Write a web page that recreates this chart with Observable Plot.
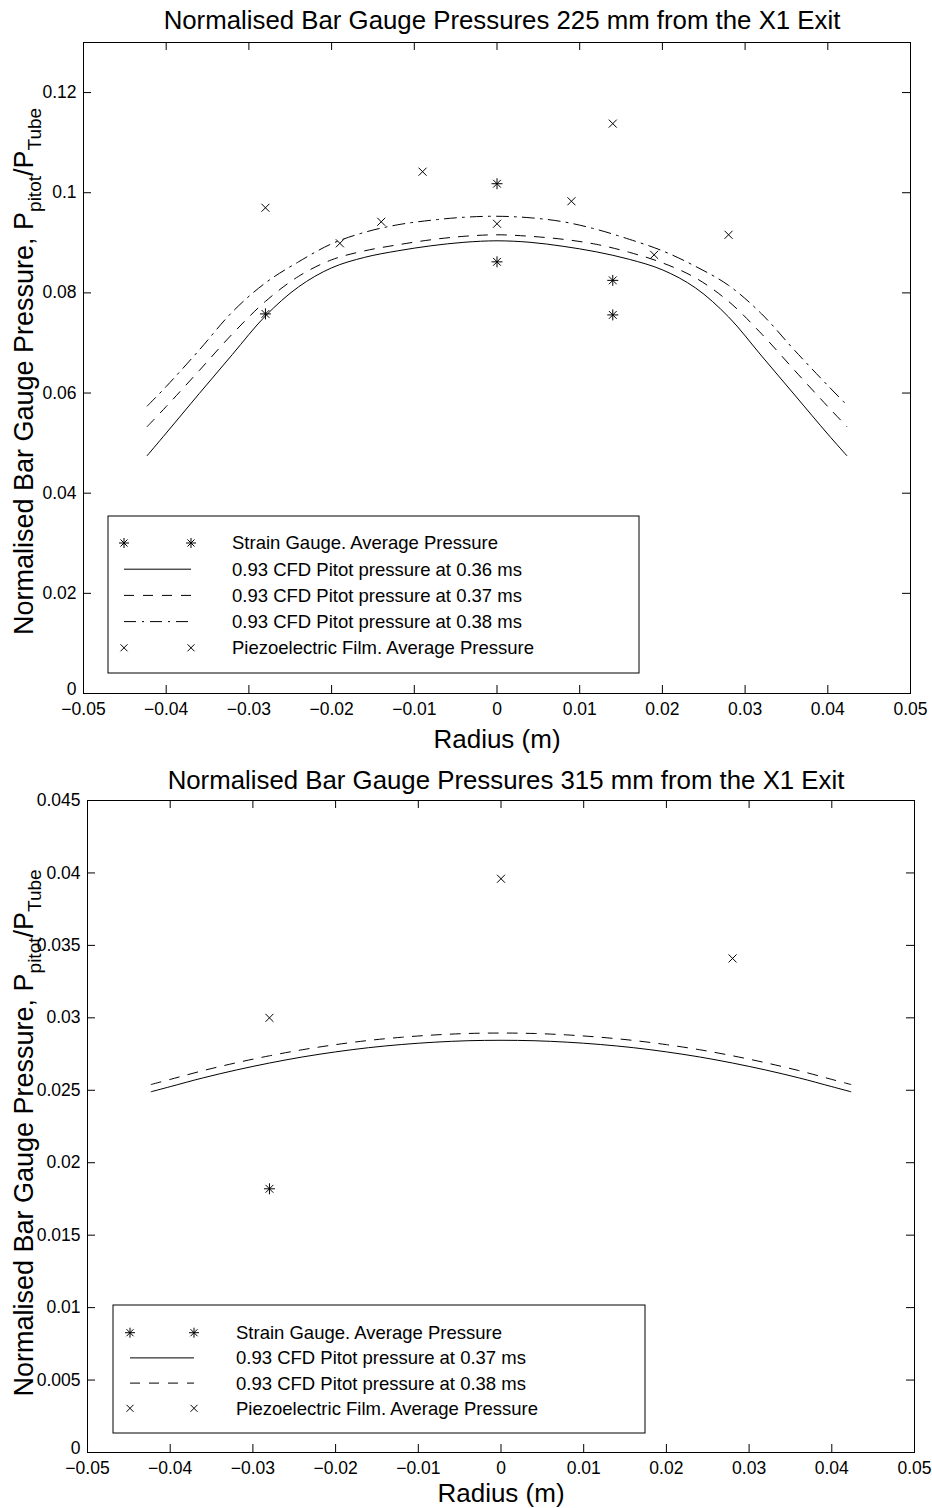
<!DOCTYPE html>
<html>
<head>
<meta charset="utf-8">
<script src="https://cdn.jsdelivr.net/npm/d3@7"></script>
<script src="https://cdn.jsdelivr.net/npm/@observablehq/plot@0.6"></script>
<style>
  body { margin: 0; background: #fff; }
  #chart svg { display: block; }
</style>
</head>
<body>
<div id="chart"></div>
<script>
const FONT = '"Liberation Sans", Arial, Helvetica, sans-serif';

// ---------- Data ----------
const xTicks = [-0.05, -0.04, -0.03, -0.02, -0.01, 0, 0.01, 0.02, 0.03, 0.04, 0.05];
const xTickLabels = ["\u22120.05", "\u22120.04", "\u22120.03", "\u22120.02", "\u22120.01", "0", "0.01", "0.02", "0.03", "0.04", "0.05"];

const yTicksTop = [0, 0.02, 0.04, 0.06, 0.08, 0.1, 0.12];
const yTickLabelsTop = ["0", "0.02", "0.04", "0.06", "0.08", "0.1", "0.12"];
const yTicksBottom = [0, 0.005, 0.01, 0.015, 0.02, 0.025, 0.03, 0.035, 0.04, 0.045];
const yTickLabelsBottom = ["0", "0.005", "0.01", "0.015", "0.02", "0.025", "0.03", "0.035", "0.04", "0.045"];

// CFD radius samples (m)
const radius = [-0.0423, -0.040, -0.036, -0.032, -0.028, -0.024, -0.020, -0.016, -0.012, -0.008, -0.004, 0,
                 0.004, 0.008, 0.012, 0.016, 0.020, 0.024, 0.028, 0.032, 0.036, 0.040, 0.0423];

// Top panel (225 mm) CFD curves
const cfdTop036 = [0.0475, 0.0520, 0.0599, 0.0677, 0.0754, 0.0812, 0.0850, 0.0871, 0.0884, 0.0894, 0.0901, 0.0904,
                   0.0901, 0.0893, 0.0882, 0.0867, 0.0846, 0.0810, 0.0752, 0.0674, 0.0596, 0.0518, 0.0475];
const cfdTop037 = [0.0533, 0.0573, 0.0645, 0.0718, 0.0783, 0.0833, 0.0866, 0.0884, 0.0896, 0.0906, 0.0913, 0.0916,
                   0.0913, 0.0907, 0.0897, 0.0881, 0.0860, 0.0830, 0.0783, 0.0718, 0.0645, 0.0573, 0.0533];
const cfdTop038 = [0.0574, 0.0613, 0.0686, 0.0762, 0.0820, 0.0862, 0.0898, 0.0921, 0.0936, 0.0945, 0.0951, 0.0953,
                   0.0950, 0.0942, 0.0927, 0.0907, 0.0884, 0.0853, 0.0815, 0.0758, 0.0685, 0.0615, 0.0576];

// Top panel measurements
const strainTopX = [-0.028, 0, 0, 0.014, 0.014];
const strainTopY = [0.0758, 0.1018, 0.0862, 0.0825, 0.0756];
const piezoTopX = [-0.028, -0.019, -0.014, -0.009, 0, 0.009, 0.014, 0.019, 0.028];
const piezoTopY = [0.0970, 0.0899, 0.0942, 0.1042, 0.0938, 0.0983, 0.1138, 0.0876, 0.0916];

// Bottom panel (315 mm) CFD curves
const cfdBot037 = [0.0249, 0.02525, 0.02586, 0.0264, 0.02688, 0.0273, 0.02765, 0.02794, 0.02816, 0.02832, 0.02842, 0.02845,
                   0.02842, 0.02832, 0.02816, 0.02794, 0.02765, 0.0273, 0.02688, 0.0264, 0.02586, 0.02525, 0.0249];
const cfdBot038 = [0.0254, 0.02575, 0.02636, 0.0269, 0.02738, 0.0278, 0.02815, 0.02844, 0.02866, 0.02882, 0.02892, 0.02895,
                   0.02892, 0.02882, 0.02866, 0.02844, 0.02815, 0.0278, 0.02738, 0.0269, 0.02636, 0.02575, 0.0254];

// Bottom panel measurements
const strainBotX = [-0.028];
const strainBotY = [0.0182];
const piezoBotX = [-0.028, 0, 0.028];
const piezoBotY = [0.0300, 0.0396, 0.0341];

// ---------- Helpers ----------
const zip = (xs, ys) => xs.map((x, i) => ({x, y: ys[i]}));

const star8 = {
  draw(ctx, size) {
    const r = Math.sqrt(size / Math.PI), d = r * Math.SQRT1_2;
    ctx.moveTo(-r, 0); ctx.lineTo(r, 0);
    ctx.moveTo(0, -r); ctx.lineTo(0, r);
    ctx.moveTo(-d, -d); ctx.lineTo(d, d);
    ctx.moveTo(-d, d); ctx.lineTo(d, -d);
  }
};
const cross = {
  draw(ctx, size) {
    const r = Math.sqrt(size / Math.PI);
    ctx.moveTo(-r, -r); ctx.lineTo(r, r);
    ctx.moveTo(-r, r); ctx.lineTo(r, -r);
  }
};
const symPath = (sym, r) => { const p = d3.path(); sym.draw(p, r * r * Math.PI); return p.toString(); };

const DASH = "10,9";
const DASHDOT = "12,6,2,6";

function panel(o) {
  const W = 932, H = o.height;
  const fw = W - o.ml - o.mr, fh = H - o.mt - o.mb;
  const inner = xTicks.slice(1, -1);
  const innerY = o.yTicks.slice(1);
  const fmtY = d => o.yLabels[o.yTicks.indexOf(d)];
  const svg = Plot.plot({
    width: W, height: H,
    marginLeft: o.ml, marginRight: o.mr, marginTop: o.mt, marginBottom: o.mb,
    style: {fontFamily: FONT, background: "white", color: "black", overflow: "visible"},
    x: {domain: [-0.05, 0.05], label: null},
    y: {domain: o.yDomain, label: null},
    marks: [
      Plot.tickX(inner, {x: d => d, insetTop: fh - 8, stroke: "black", strokeWidth: 1}),
      Plot.tickX(inner, {x: d => d, insetBottom: fh - 8, stroke: "black", strokeWidth: 1}),
      Plot.tickY(innerY, {y: d => d, insetRight: fw - 8, stroke: "black", strokeWidth: 1}),
      Plot.tickY(innerY, {y: d => d, insetLeft: fw - 8, stroke: "black", strokeWidth: 1}),
      Plot.axisX({ticks: xTicks, tickSize: 0, tickPadding: 9, label: null, fontSize: 17.5,
                  tickFormat: d => xTickLabels[xTicks.indexOf(d)]}),
      Plot.axisY({ticks: o.yTicks.slice(1), tickSize: 0, tickPadding: 7, label: null, fontSize: 17.5,
                  tickFormat: fmtY}),
      Plot.axisY({ticks: o.yTicks.slice(0, 1), tickSize: 0, tickPadding: 7, label: null, fontSize: 17.5,
                  dy: -4, tickFormat: fmtY}),
      ...o.curves.map(c => Plot.line(c.data, {x: "x", y: "y", stroke: "black", strokeWidth: 1,
                                              strokeDasharray: c.dash, curve: "catmull-rom"})),
      Plot.dot(o.strain, {x: "x", y: "y", symbol: star8, r: 5.5, stroke: "black", strokeWidth: 1, fill: "none"}),
      Plot.dot(o.piezo, {x: "x", y: "y", symbol: cross, r: 4, stroke: "black", strokeWidth: 1, fill: "none"}),
      Plot.frame({stroke: "black", strokeWidth: 1}),
      Plot.text([o.title], {frameAnchor: "top", lineAnchor: "middle", dx: 5, dy: -o.titleDy, fontSize: 25.8, fill: "black"}),
      Plot.text(["Radius (m)"], {frameAnchor: "bottom", lineAnchor: "middle", dy: o.xlabDy, fontSize: 26, fill: "black"})
    ]
  });

  const s = d3.select(svg);
  // y-axis label with subscripts
  const cy = o.mt + fh / 2 + o.ylabShift;
  const lab = s.append("text")
    .attr("transform", `translate(33,${cy}) rotate(-90)`)
    .attr("text-anchor", "middle")
    .attr("font-family", FONT).attr("font-size", 27).attr("fill", "black");
  lab.append("tspan").text("Normalised Bar Gauge Pressure, P");
  lab.append("tspan").attr("dy", 8).attr("font-size", 19).text("pitot");
  lab.append("tspan").attr("dy", -8).text("/P");
  lab.append("tspan").attr("dy", 8).attr("font-size", 19).text("Tube");

  // legend
  const L = o.legend;
  const g = s.append("g").attr("font-family", FONT).attr("text-anchor", "start");
  g.append("rect").attr("x", L.x).attr("y", L.y).attr("width", L.w).attr("height", L.h)
    .attr("fill", "white").attr("stroke", "black").attr("stroke-width", 1);
  L.entries.forEach((e, i) => {
    const y = L.row0 + i * L.rowDy;
    if (e.kind === "line") {
      g.append("line").attr("x1", L.m1).attr("x2", L.m2).attr("y1", y).attr("y2", y)
        .attr("stroke", "black").attr("stroke-width", 1).attr("stroke-dasharray", e.dash);
    } else {
      [L.m1, L.m2].forEach(mx => g.append("path")
        .attr("transform", `translate(${mx},${y})`)
        .attr("d", symPath(e.symbol, e.r))
        .attr("fill", "none").attr("stroke", "black").attr("stroke-width", 1));
    }
    g.append("text").attr("x", L.tx).attr("y", y).attr("dy", "0.35em")
      .attr("text-anchor", "start")
      .attr("font-size", 18.5).attr("fill", "black").text(e.label);
  });
  return svg;
}

const chart = document.getElementById("chart");

chart.appendChild(panel({
  height: 754, ml: 83, mr: 22, mt: 42, mb: 61,
  yDomain: [0, 0.13], yTicks: yTicksTop, yLabels: yTickLabelsTop,
  title: "Normalised Bar Gauge Pressures 225 mm from the X1 Exit", titleDy: 22, xlabDy: 46, ylabShift: 4,
  curves: [
    {data: zip(radius, cfdTop036), dash: null},
    {data: zip(radius, cfdTop037), dash: DASH},
    {data: zip(radius, cfdTop038), dash: DASHDOT}
  ],
  strain: zip(strainTopX, strainTopY),
  piezo: zip(piezoTopX, piezoTopY),
  legend: {
    x: 108, y: 516, w: 531, h: 157, row0: 543, rowDy: 26.2, m1: 124, m2: 191, tx: 232,
    entries: [
      {kind: "sym", symbol: star8, r: 5, label: "Strain Gauge. Average Pressure"},
      {kind: "line", dash: null, label: "0.93 CFD Pitot pressure at 0.36 ms"},
      {kind: "line", dash: DASH, label: "0.93 CFD Pitot pressure at 0.37 ms"},
      {kind: "line", dash: DASHDOT, label: "0.93 CFD Pitot pressure at 0.38 ms"},
      {kind: "sym", symbol: cross, r: 3.5, label: "Piezoelectric Film. Average Pressure"}
    ]
  }
}));

chart.appendChild(panel({
  height: 754, ml: 87, mr: 18, mt: 46, mb: 56,
  yDomain: [0, 0.045], yTicks: yTicksBottom, yLabels: yTickLabelsBottom,
  title: "Normalised Bar Gauge Pressures 315 mm from the X1 Exit", titleDy: 20, xlabDy: 41, ylabShift: 7,
  curves: [
    {data: zip(radius, cfdBot037), dash: null},
    {data: zip(radius, cfdBot038), dash: DASH}
  ],
  strain: zip(strainBotX, strainBotY),
  piezo: zip(piezoBotX, piezoBotY),
  legend: {
    x: 113, y: 551, w: 532, h: 128, row0: 578.7, rowDy: 25.2, m1: 130, m2: 194, tx: 236,
    entries: [
      {kind: "sym", symbol: star8, r: 5, label: "Strain Gauge. Average Pressure"},
      {kind: "line", dash: null, label: "0.93 CFD Pitot pressure at 0.37 ms"},
      {kind: "line", dash: DASH, label: "0.93 CFD Pitot pressure at 0.38 ms"},
      {kind: "sym", symbol: cross, r: 3.5, label: "Piezoelectric Film. Average Pressure"}
    ]
  }
}));
</script>
</body>
</html>
